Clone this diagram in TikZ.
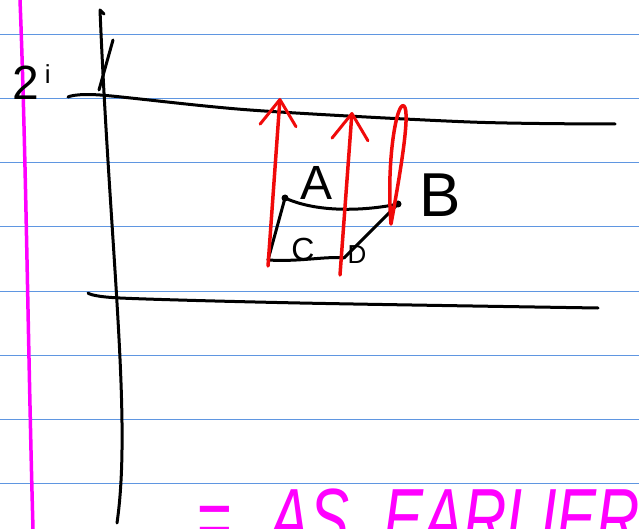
\documentclass[tikz,border=0pt]{standalone}
\usepackage{fontspec}
\setmainfont{Liberation Sans}
\usetikzlibrary{arrows.meta}
\definecolor{ruleblue}{RGB}{95,150,225}
\definecolor{inkmagenta}{RGB}{255,0,255}
\definecolor{inkred}{RGB}{240,10,10}
\tikzset{
  ink/.style={line width=3pt, line cap=round, line join=round},
  ruled/.style={ruleblue, line width=1pt},
  flow/.style={ink, inkred, line width=3.5pt, -{Straight Barb[length=26pt, width=36pt, line width=3pt, round]}},
  lbl/.style={inner sep=0pt}
}

\begin{document}
\begin{tikzpicture}[x=1pt, y=-1pt]
    \useasboundingbox (0,0) rectangle (639,529);
    \clip (0,0) rectangle (639,529);

    % Draw ruled lines
    \foreach \y in {35,99,...,483}
      \draw[ruled] (0,\y) -- (639,\y);

    % Margin
    \draw[ink, inkmagenta, line width=3.5pt] (20,0) .. controls (26,150) and (28,350) .. (33,529);

    % Imaginary axis and the two lines
    \draw[ink] (104,14) -- (100,10) .. controls (110,250) and (132,420) .. (117,523);
    \draw[ink] (113,40) -- (99,90);
    \draw[ink] plot[smooth] coordinates {(68,97) (100,95) (250,110) (470,122) (615,124)};
    \draw[ink] plot[smooth] coordinates {(88,293) (120,298) (300,303) (598,308)};

    \node[lbl, anchor=base west] (twoi) at (12,100)
      {\fontsize{48}{48}\selectfont 2\hspace{6pt}\raisebox{16pt}{\fontsize{26}{26}\selectfont i}};

    % Corners
    \coordinate (a) at (285,198);
    \coordinate (b) at (398,204);
    \coordinate (c) at (268,260);
    \coordinate (d) at (344,258);

    \draw[ink] (a) .. controls (320,214) and (370,210) .. (b);
    \draw[ink] (a) -- (c);
    \draw[ink] (c) .. controls (300,262) and (325,256) .. (d);
    \draw[ink] (d) -- (b);
    \fill (a) circle (3.5pt);
    \fill (b) circle (3.5pt);

    \node[lbl, font=\fontsize{48}{48}\selectfont] (labA) at (317,183) {A};
    \node[lbl, font=\fontsize{62}{62}\selectfont] (labB) at (440,195) {B};
    \node[lbl, font=\fontsize{32}{32}\selectfont] (labC) at (303,249) {C};
    \node[lbl, font=\fontsize{26}{26}\selectfont] (labD) at (357,255) {D};

    % Red arrows
    \draw[flow] (268,266) -- (280,98);
    \draw[flow] (340,275) -- (352,112);
    \draw[ink, inkred, line width=3.5pt] (391,224) .. controls (386,160) and (397,100) .. (404,106)
      .. controls (411,112) and (399,180) .. (391,224);

    % Note at the bottom
    \node[lbl, anchor=base west, text=inkmagenta] (note) at (196,547)
      {\scalebox{1}[1.4]{\fontsize{60}{60}\selectfont\itshape =\hspace{38pt}AS\hspace{34pt}EARLIER}};

\end{tikzpicture}
\end{document}
